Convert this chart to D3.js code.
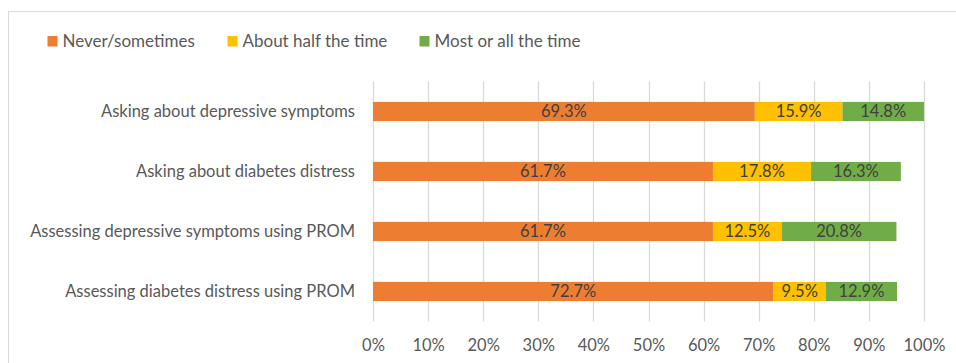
<!DOCTYPE html>
<html>
<head>
<meta charset="utf-8">
<script src="https://cdn.jsdelivr.net/npm/d3@7"></script>
<style>
  body { margin: 0; background: #fff; }
  text { font-family: Lato, "Open Sans", sans-serif; }
</style>
</head>
<body>
<div id="chart"></div>
<script>
var svgWidth = 956;
var svgHeight = 363;

// data
var categories = [
    "Asking about depressive symptoms",
    "Asking about diabetes distress",
    "Assessing depressive symptoms using PROM",
    "Assessing diabetes distress using PROM"
];
var seriesNames = ["Never/sometimes", "About half the time", "Most or all the time"];
var neverSometimes = [69.3, 61.7, 61.7, 72.7];
var aboutHalf = [15.9, 17.8, 12.5, 9.5];
var mostOrAll = [14.8, 16.3, 20.8, 12.9];
var xTicks = [0, 10, 20, 30, 40, 50, 60, 70, 80, 90, 100];

var colors = ["#ED7D31", "#FFC000", "#70AD47"];

var margin = { top: 81.5, left: 373, right: 32, bottom: 41.5 };

var svg = d3.select("#chart")
    .append("svg")
    .attr("width", svgWidth)
    .attr("height", svgHeight);

// chart area border (only top and left visible in the crop)
svg.append("rect")
    .attr("x", 8.5)
    .attr("y", 11.5)
    .attr("width", 1000)
    .attr("height", 400)
    .attr("fill", "none")
    .attr("stroke", "#d9d9d9")
    .attr("stroke-width", 1);

var x = d3.scaleLinear()
    .domain([0, 100])
    .range([margin.left, svgWidth - margin.right]);

var y = d3.scaleBand()
    .domain(categories)
    .range([margin.top, svgHeight - margin.bottom]);

var barH = y.bandwidth() * 0.32;

// gridlines
svg.append("g")
    .selectAll("line")
    .data(xTicks)
    .enter()
    .append("line")
    .attr("x1", d => Math.round(x(d)) + 0.5)
    .attr("x2", d => Math.round(x(d)) + 0.5)
    .attr("y1", margin.top)
    .attr("y2", svgHeight - margin.bottom)
    .attr("stroke", "#d9d9d9")
    .attr("stroke-width", 1.3);

// x axis labels
var xAxis = d3.axisBottom(x)
    .tickValues(xTicks)
    .tickFormat(d => d + "%")
    .tickSize(0)
    .tickPadding(0);

var xg = svg.append("g")
    .attr("transform", `translate(0, ${svgHeight - margin.bottom})`)
    .call(xAxis);
xg.select(".domain").remove();
xg.selectAll("text")
    .attr("y", 24)
    .attr("dy", "0.35em")
    .style("font-size", "16.5px")
    .style("font-family", "Lato, sans-serif")
    .attr("fill", "#595959");

// y axis labels
var yAxis = d3.axisLeft(y).tickSize(0).tickPadding(18);
var yg = svg.append("g")
    .attr("transform", `translate(${margin.left}, 0)`)
    .call(yAxis);
yg.select(".domain").remove();
yg.selectAll("text")
    .style("font-size", "16.5px")
    .style("font-family", "Lato, sans-serif")
    .attr("fill", "#595959");

// stacked data
var rows = categories.map(function (c, i) {
    return { cat: c, vals: [neverSometimes[i], aboutHalf[i], mostOrAll[i]] };
});
var stackData = [];
rows.forEach(function (r) {
    var start = 0;
    r.vals.forEach(function (v, k) {
        stackData.push({ cat: r.cat, k: k, x0: start, x1: start + v, v: v });
        start += v;
    });
});

svg.append("g")
    .selectAll("rect")
    .data(stackData)
    .enter()
    .append("rect")
    .attr("x", d => x(d.x0))
    .attr("y", d => y(d.cat) + (y.bandwidth() - barH) / 2)
    .attr("width", d => x(d.x1) - x(d.x0))
    .attr("height", barH)
    .attr("fill", d => colors[d.k]);

svg.append("g")
    .selectAll("text")
    .data(stackData)
    .enter()
    .append("text")
    .attr("x", d => (x(d.x0) + x(d.x1)) / 2)
    .attr("y", d => y(d.cat) + y.bandwidth() / 2)
    .attr("dy", "0.35em")
    .attr("text-anchor", "middle")
    .style("font-size", "16.5px")
    .attr("fill", "#404040")
    .text(d => d.v.toFixed(1) + "%");

// legend
var legendX = [47.5, 227.5, 419.5];
var legend = svg.append("g")
    .selectAll("g")
    .data(seriesNames)
    .enter()
    .append("g")
    .attr("transform", (d, i) => `translate(${legendX[i]}, 36)`);

legend.append("rect")
    .attr("width", 10)
    .attr("height", 10.5)
    .attr("fill", (d, i) => colors[i]);

legend.append("text")
    .attr("x", 15)
    .attr("y", 5.5)
    .attr("dy", "0.35em")
    .style("font-size", "17px")
    .attr("fill", "#595959")
    .text(d => d);
</script>
</body>
</html>
